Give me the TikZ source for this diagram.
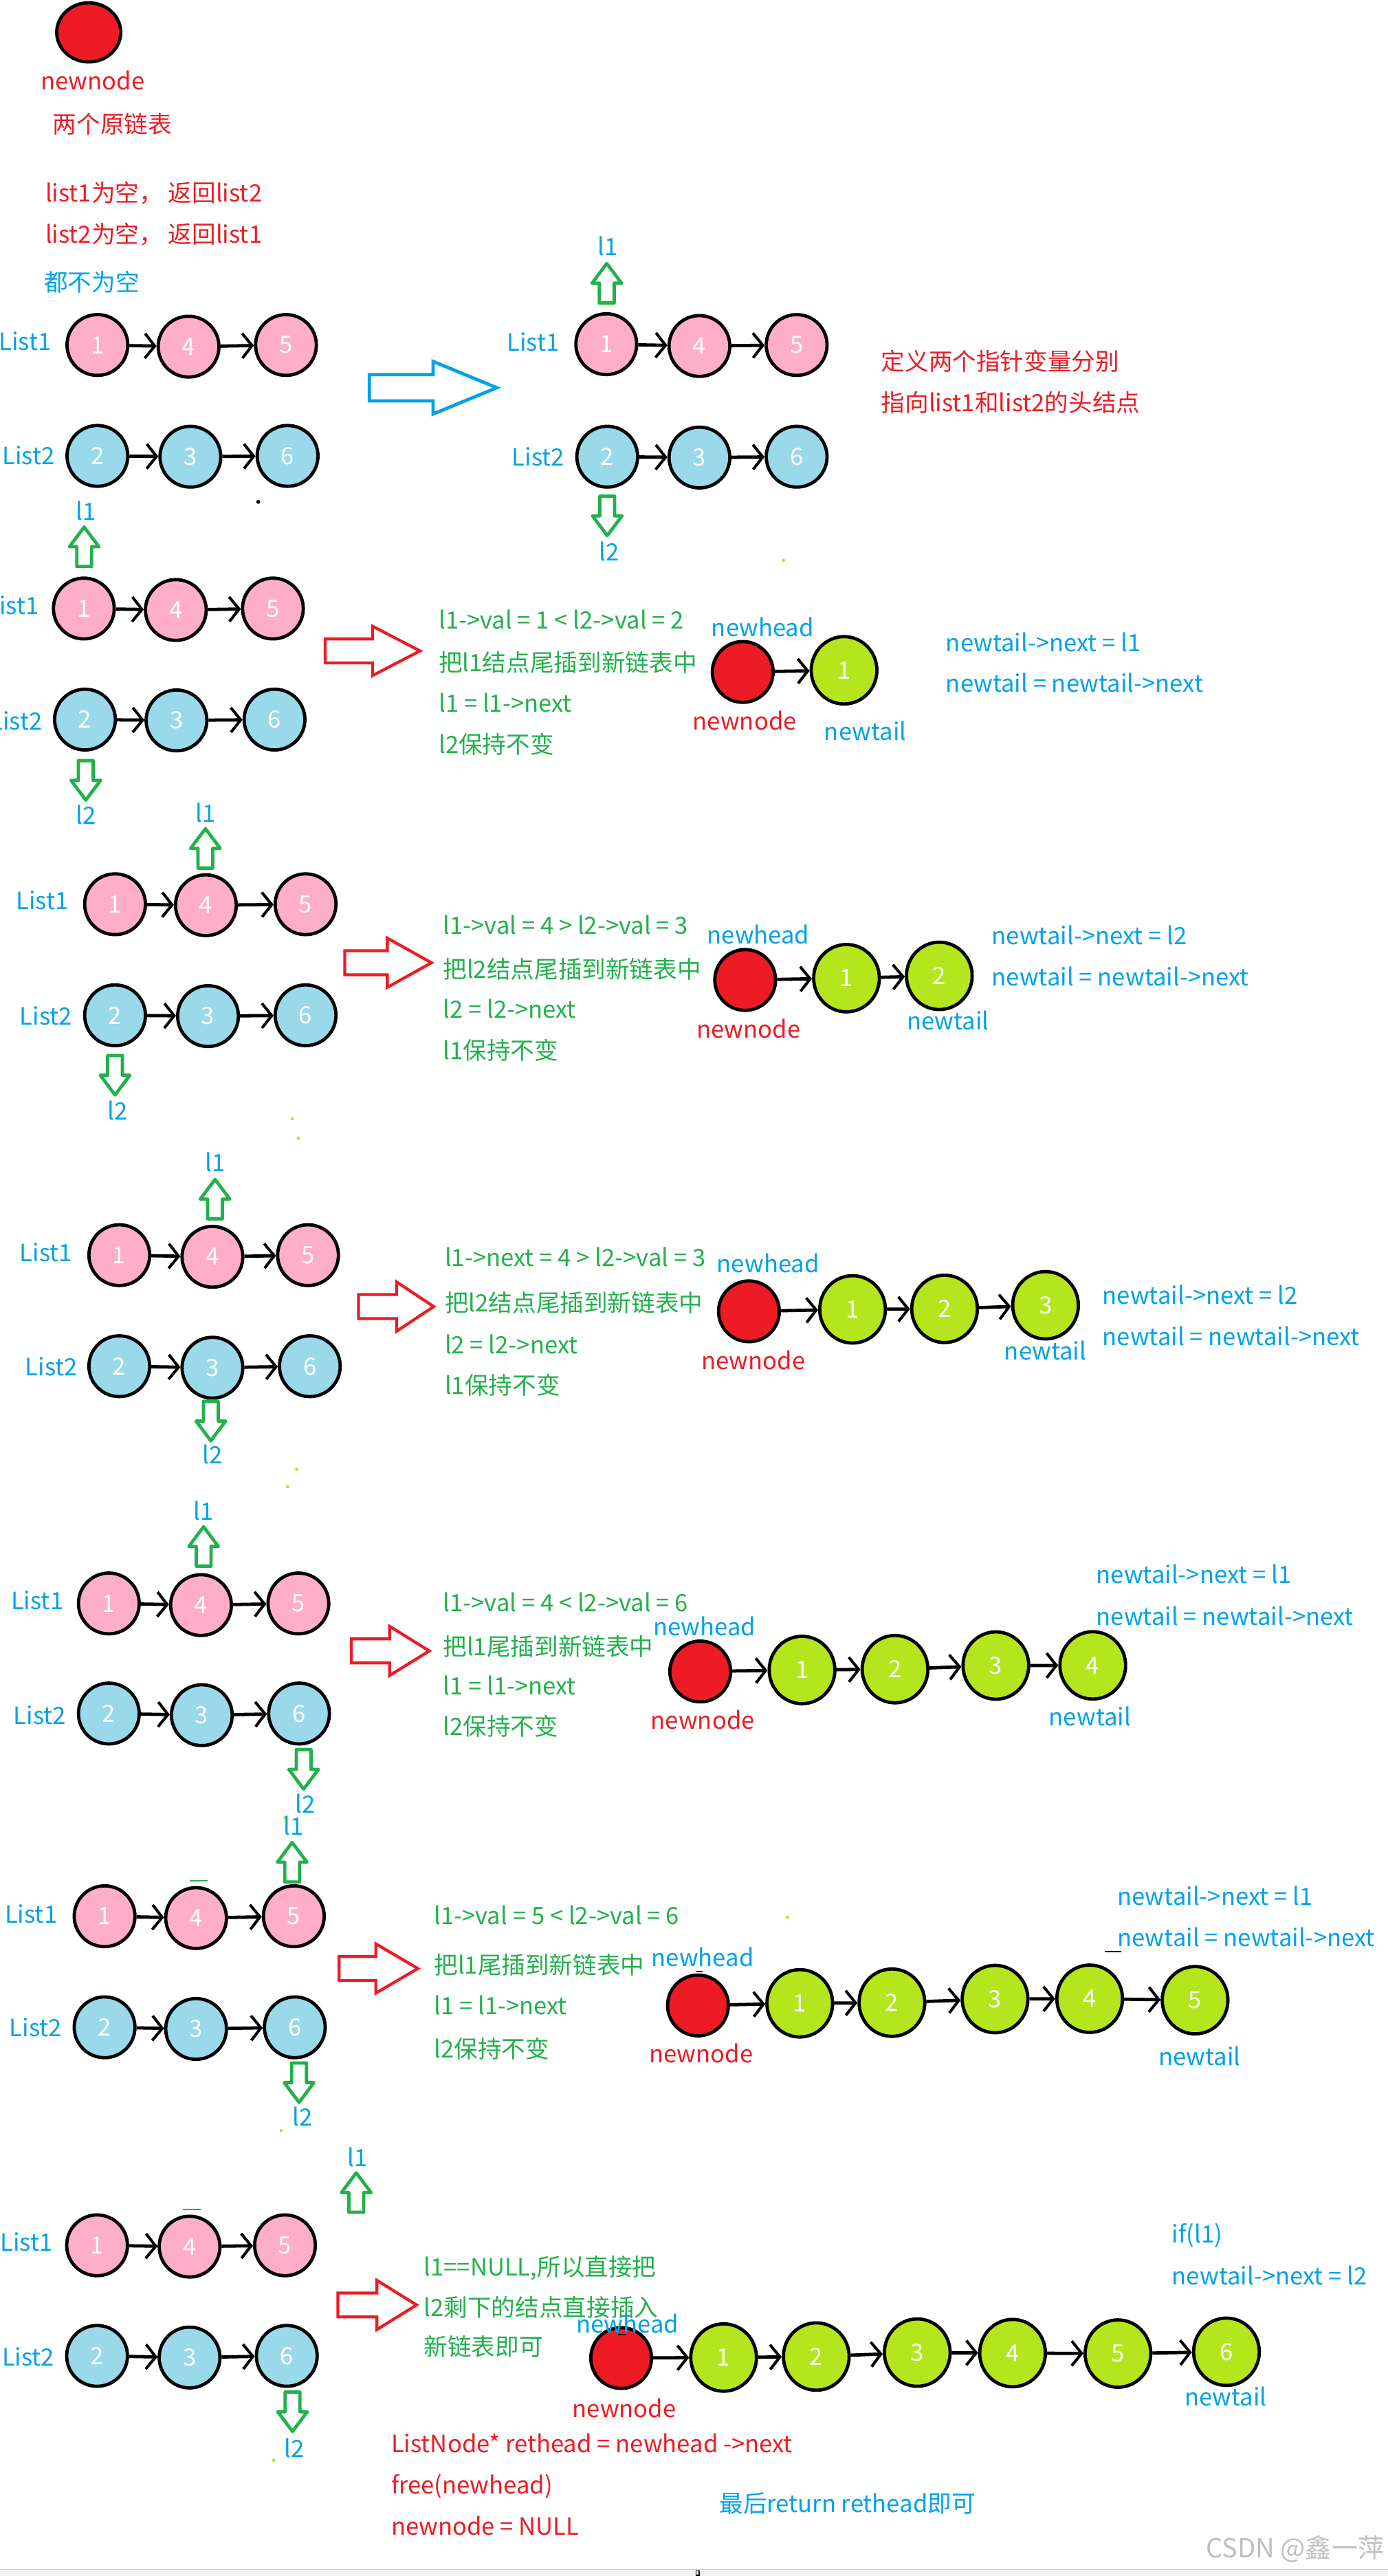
\documentclass[tikz,border=0pt]{standalone}
\usepackage{fontspec}
\setmainfont{Noto Sans CJK SC}
\usetikzlibrary{shapes.geometric, arrows.meta}
\definecolor{cred}{HTML}{ED1C24}
\definecolor{cgreen}{HTML}{22B14C}
\definecolor{cblue}{HTML}{00A2E8}
\definecolor{clime}{HTML}{B5E61D}
\definecolor{cpink}{HTML}{FFAEC9}
\definecolor{clblue}{HTML}{99D9EA}
\newcommand{\fs}{\fontsize{14.5pt}{17pt}\selectfont}
\newcommand{\RArr}[4]{\draw[cred, line width=1.8pt] (#1,#4-7.3) -- (#2,#4-7.3) -- (#2,#4-15) -- (#3,#4) -- (#2,#4+15) -- (#2,#4+7.3) -- (#1,#4+7.3) -- cycle;}
\tikzset{
 txt/.style={inner sep=0pt, font=\fs, text height=0.74em, text depth=0pt},
 bt/.style={txt, text=cblue, anchor=west},
 gt/.style={txt, text=cgreen, anchor=west},
 rt/.style={txt, text=cred, anchor=west},
 lbl/.style={txt, text=cblue},
 rlbl/.style={txt, text=cred},
 lstl/.style={txt, text=cblue, anchor=east},
 lnode/.style={ellipse, draw=black, line width=2pt, minimum width=37pt, minimum height=37pt, inner sep=0pt, text=white, font=\fs},
 pk/.style={lnode, fill=cpink},
 lb/.style={lnode, fill=clblue},
 lm/.style={lnode, fill=clime, minimum width=40pt, minimum height=41pt},
 rd/.style={lnode, fill=cred},
 link/.style={line width=2pt, -{Straight Barb[length=6pt,width=15pt,line width=1.7pt]}},
 garrow/.style={draw=cgreen, fill=white, line width=2pt, line join=round},
 uparr/.pic={\path[garrow] (0,0) -- (9,12) -- (4.5,12) -- (4.5,24) -- (-4.5,24) -- (-4.5,12) -- (-9,12) -- cycle;},
 downarr/.pic={\path[garrow] (0,24) -- (9,12) -- (4.5,12) -- (4.5,0) -- (-4.5,0) -- (-4.5,12) -- (-9,12) -- cycle;},
 ldot/.style={fill=clime},
}
\begin{document}
\begin{tikzpicture}[x=1pt,y=-1pt]
\fill[white] (0,0) rectangle (845,1568);
\useasboundingbox (0,0) rectangle (845,1568);
\begin{scope}[xscale=0.995]
% ---------- top ----------
\node[rd, minimum width=39pt, minimum height=36pt] (nn0) at (54.3,19.7) {};
\node[rlbl] (nn0t) at (56.7,50.9) {newnode};
\node[rt] (t0a) at (32.1,77.4) {两个原链表};
\node[rt] (t0b) at (27.6,119.2) {list1为空， 返回list2};
\node[rt] (t0c) at (27.6,144.4) {list2为空， 返回list1};
\node[bt] (t0d) at (26.8,173.6) {都不为空};
% ---------- section 0 ----------
\node[lstl] (s0L1) at (31.5,209.5) {List1};
\node[pk] (s0a1) at (59.6,210) {1};
\node[pk] (s0a2) at (115.4,211) {4};
\node[pk] (s0a3) at (175,210) {5};
\node[lstl] (s0L2) at (33.6,279) {List2};
\node[lb] (s0b1) at (59.6,277.5) {2};
\node[lb] (s0b2) at (116.5,278) {3};
\node[lb] (s0b3) at (176,277.5) {6};
\draw[link] (s0a1) -- (s0a2); \draw[link] (s0a2) -- (s0a3);
\draw[link] (s0b1) -- (s0b2); \draw[link] (s0b2) -- (s0b3);
\fill (158,305.5) circle (1.2);
\draw[cblue, line width=2pt] (226,228) -- (265,228) -- (265,220) -- (304,236) -- (265,252) -- (265,244) -- (226,244) -- cycle;
\node[lbl] (s0l1) at (372,152) {l1};
\pic at (371.3,160.4) {uparr};
\node[lstl] (s0R1) at (342.4,210) {List1};
\node[pk] (s0c1) at (371,209.5) {1};
\node[pk] (s0c2) at (428,210.6) {4};
\node[pk] (s0c3) at (487.5,210) {5};
\node[lstl] (s0R2) at (345.6,279.7) {List2};
\node[lb] (s0d1) at (371.6,278) {2};
\node[lb] (s0d2) at (428,278.5) {3};
\node[lb] (s0d3) at (487.5,278) {6};
\draw[link] (s0c1) -- (s0c2); \draw[link] (s0c2) -- (s0c3);
\draw[link] (s0d1) -- (s0d2); \draw[link] (s0d2) -- (s0d3);
\pic at (371.6,302) {downarr};
\node[lbl] (s0l2) at (372.7,337.5) {l2};
\node[rt] (s0t1) at (539,221.8) {定义两个指针变量分别};
\node[rt] (s0t2) at (539,247) {指向list1和list2的头结点};
\fill[ldot] (479.4,341) circle (1);
% ---------- section 1 ----------
\node[lbl] (s1l1) at (52.5,313) {l1};
\pic at (51.5,320.8) {uparr};
\node[lstl] (s1L1) at (24,370.4) {List1};
\node[pk] (s1a1) at (51.3,370.4) {1};
\node[pk] (s1a2) at (107.6,371.3) {4};
\node[pk] (s1a3) at (167,370.4) {5};
\node[lstl] (s1L2) at (26,440.8) {List2};
\node[lb] (s1b1) at (52,438) {2};
\node[lb] (s1b2) at (108,438.5) {3};
\node[lb] (s1b3) at (168,438) {6};
\draw[link] (s1a1) -- (s1a2); \draw[link] (s1a2) -- (s1a3);
\draw[link] (s1b1) -- (s1b2); \draw[link] (s1b2) -- (s1b3);
\pic at (52.5,463) {downarr};
\node[lbl] (s1l2) at (52.5,498) {l2};
\RArr{199}{228}{257}{396.2}
\node[gt] (s1g1) at (268.3,379) {l1->val = 1 < l2->val = 2};
\node[gt] (s1g2) at (268.3,405) {把l1结点尾插到新链表中};
\node[gt] (s1g3) at (268.3,429.7) {l1 = l1->next};
\node[gt] (s1g4) at (268.3,454.8) {l2保持不变};
\node[lbl] (s1nh) at (466.7,383.6) {newhead};
\node[rd] (s1r) at (454.5,409) {};
\node[lm] (s1n1) at (516.5,408) {1};
\draw[link] (s1r) -- (s1n1);
\node[rlbl] (s1nn) at (455.7,440.8) {newnode};
\node[lbl] (s1nt) at (529.5,447) {newtail};
\node[bt] (s1b1t) at (578.6,392.7) {newtail->next = l1};
\node[bt] (s1b2t) at (578.6,417.8) {newtail = newtail->next};
% ---------- section 2 ----------
\node[lbl] (s2l1) at (126,496.8) {l1};
\pic at (125.7,504.4) {uparr};
\node[lstl] (s2L1) at (42,550) {List1};
\node[pk] (s2a1) at (70.4,550.4) {1};
\node[pk] (s2a2) at (126,551) {4};
\node[pk] (s2a3) at (187,550.4) {5};
\node[lstl] (s2L2) at (44.4,620) {List2};
\node[lb] (s2b1) at (70.4,618) {2};
\node[lb] (s2b2) at (127.3,618.5) {3};
\node[lb] (s2b3) at (187,618) {6};
\draw[link] (s2a1) -- (s2a2); \draw[link] (s2a2) -- (s2a3);
\draw[link] (s2b1) -- (s2b2); \draw[link] (s2b2) -- (s2b3);
\pic at (70.4,642.5) {downarr};
\node[lbl] (s2l2) at (72,678) {l2};
\fill[ldot] (178.8,681) circle (1);
\RArr{211}{237}{264}{586}
\node[gt] (s2g1) at (270.9,565) {l1->val = 4 > l2->val = 3};
\node[gt] (s2g2) at (270.9,591.6) {把l2结点尾插到新链表中};
\node[gt] (s2g3) at (270.9,616) {l2 = l2->next};
\node[gt] (s2g4) at (270.9,641) {l1保持不变};
\node[lbl] (s2nh) at (464,571) {newhead};
\node[rd] (s2r) at (456,596.5) {};
\node[lm] (s2n1) at (518,595.4) {1};
\node[lm] (s2n2) at (574.8,594) {2};
\draw[link] (s2r) -- (s2n1); \draw[link] (s2n1) -- (s2n2);
\node[rlbl] (s2nn) at (458,628) {newnode};
\node[lbl] (s2nt) at (580,623) {newtail};
\node[bt] (s2b1t) at (606.7,571.4) {newtail->next = l2};
\node[bt] (s2b2t) at (606.7,596.5) {newtail = newtail->next};
% ---------- section 3 ----------
\fill[ldot] (182.6,692.8) circle (1);
\node[lbl] (s3l1) at (131.6,709.5) {l1};
\pic at (131.6,717.9) {uparr};
\node[lstl] (s3L1) at (44.4,764) {List1};
\node[pk] (s3a1) at (73,764) {1};
\node[pk] (s3a2) at (130,765) {4};
\node[pk] (s3a3) at (188.5,764) {5};
\node[lstl] (s3L2) at (47.7,833.7) {List2};
\node[lb] (s3b1) at (73,831.6) {2};
\node[lb] (s3b2) at (130,832.5) {3};
\node[lb] (s3b3) at (189.6,831.6) {6};
\draw[link] (s3a1) -- (s3a2); \draw[link] (s3a2) -- (s3a3);
\draw[link] (s3b1) -- (s3b2); \draw[link] (s3b2) -- (s3b3);
\pic at (129,853) {downarr};
\node[lbl] (s3l2) at (130,887.4) {l2};
\fill[ldot] (181.5,894.3) circle (1);
\RArr{219.4}{242.7}{265.4}{795.3}
\node[gt] (s3g1) at (272,767) {l1->next = 4 > l2->val = 3};
\node[gt] (s3g2) at (272,794.6) {把l2结点尾插到新链表中};
\node[gt] (s3g3) at (272,820.4) {l2 = l2->next};
\node[gt] (s3g4) at (272,844.8) {l1保持不变};
\node[lbl] (s3nh) at (470,771) {newhead};
\node[rd] (s3r) at (458.3,798.2) {};
\node[lm] (s3n1) at (521.7,797) {1};
\node[lm] (s3n2) at (578,796.7) {2};
\node[lm] (s3n3) at (639.8,794.5) {3};
\draw[link] (s3r) -- (s3n1); \draw[link] (s3n1) -- (s3n2); \draw[link] (s3n2) -- (s3n3);
\node[rlbl] (s3nn) at (461,830) {newnode};
\node[lbl] (s3nt) at (639.7,824) {newtail};
\node[bt] (s3b1t) at (674.4,790) {newtail->next = l2};
\node[bt] (s3b2t) at (674.4,815.3) {newtail = newtail->next};
% ---------- section 4 ----------
\fill[ldot] (176,904.9) circle (1);
\node[lbl] (s4l1) at (124.6,921.6) {l1};
\pic at (124.6,929.3) {uparr};
\node[lstl] (s4L1) at (39,976) {List1};
\node[pk] (s4a1) at (66.6,976) {1};
\node[pk] (s4a2) at (123,977) {4};
\node[pk] (s4a3) at (182.6,976) {5};
\node[lstl] (s4L2) at (40.6,1045.7) {List2};
\node[lb] (s4b1) at (66.6,1043) {2};
\node[lb] (s4b2) at (123.5,1044) {3};
\node[lb] (s4b3) at (183,1043) {6};
\draw[link] (s4a1) -- (s4a2); \draw[link] (s4a2) -- (s4a3);
\draw[link] (s4b1) -- (s4b2); \draw[link] (s4b2) -- (s4b3);
\pic at (185.8,1065) {downarr};
\node[lbl] (s4l2) at (187,1100) {l2};
\RArr{215}{238.4}{262.7}{1004.9}
\node[gt] (s4g1) at (270.9,977.4) {l1->val = 4 < l2->val = 6};
\node[gt] (s4g2) at (270.9,1003.9) {把l1尾插到新链表中};
\node[gt] (s4g3) at (270.9,1028) {l1 = l1->next};
\node[gt] (s4g4) at (270.9,1052.7) {l2保持不变};
\node[lbl] (s4nh) at (431,992) {newhead};
\node[rd] (s4r) at (428.5,1017.4) {};
\node[lm] (s4n1) at (490.8,1016.5) {1};
\node[lm] (s4n2) at (547.7,1016) {2};
\node[lm] (s4n3) at (609.4,1013.8) {3};
\node[lm] (s4n4) at (668.7,1013.7) {4};
\draw[link] (s4r) -- (s4n1); \draw[link] (s4n1) -- (s4n2); \draw[link] (s4n2) -- (s4n3); \draw[link] (s4n3) -- (s4n4);
\node[rlbl] (s4nn) at (430,1049) {newnode};
\node[lbl] (s4nt) at (667,1046.7) {newtail};
\node[bt] (s4b1t) at (670.6,960) {newtail->next = l1};
\node[bt] (s4b2t) at (670.6,985.5) {newtail = newtail->next};
% ---------- section 5 ----------
\fill[ldot] (174.4,1106.4) circle (1);
\node[lbl] (s5l1) at (179.8,1113.4) {l1};
\pic at (178.8,1121.5) {uparr};
\draw[cgreen, line width=1pt] (116,1144.8) -- (127,1144.8);
\node[lstl] (s5L1) at (35.2,1167) {List1};
\node[pk] (s5a1) at (64,1166.4) {1};
\node[pk] (s5a2) at (120,1167.5) {4};
\node[pk] (s5a3) at (179.8,1166.4) {5};
\node[lstl] (s5L2) at (38,1236) {List2};
\node[lb] (s5b1) at (64,1234) {2};
\node[lb] (s5b2) at (120,1235) {3};
\node[lb] (s5b3) at (180.4,1234) {6};
\draw[link] (s5a1) -- (s5a2); \draw[link] (s5a2) -- (s5a3);
\draw[link] (s5b1) -- (s5b2); \draw[link] (s5b2) -- (s5b3);
\pic at (183,1255.7) {downarr};
\node[lbl] (s5l2) at (185,1290.5) {l2};
\fill[ldot] (172,1296.8) circle (1);
\RArr{207.5}{230}{255.7}{1198.2}
\node[gt] (s5g1) at (265.4,1167.5) {l1->val = 5 < l2->val = 6};
\node[gt] (s5g2) at (265.4,1197.8) {把l1尾插到新链表中};
\node[gt] (s5g3) at (265.4,1222.6) {l1 = l1->next};
\node[gt] (s5g4) at (265.4,1248.7) {l2保持不变};
\fill[ldot] (482,1167) circle (1);
\node[lbl] (s5nh) at (430,1193.3) {newhead};
\draw[line width=0.8pt] (426,1200) -- (430,1200);
\node[rd] (s5r) at (427.1,1220.7) {};
\node[lm] (s5n1) at (489.4,1219.4) {1};
\node[lm] (s5n2) at (545.8,1219) {2};
\node[lm] (s5n3) at (608.9,1216.8) {3};
\node[lm] (s5n4) at (666.8,1216.6) {4};
\node[lm] (s5n5) at (731.3,1217.5) {5};
\draw[link] (s5r) -- (s5n1); \draw[link] (s5n1) -- (s5n2); \draw[link] (s5n2) -- (s5n3); \draw[link] (s5n3) -- (s5n4); \draw[link] (s5n4) -- (s5n5);
\node[rlbl] (s5nn) at (429,1252) {newnode};
\node[lbl] (s5nt) at (734,1253.6) {newtail};
\node[bt] (s5b1t) at (683.6,1156) {newtail->next = l1};
\node[bt] (s5b2t) at (683.6,1181) {newtail = newtail->next};
\draw[line width=0.8pt] (676,1188) -- (686,1188);
% ---------- section 6 ----------
\node[lbl] (s6l1) at (218.7,1314.9) {l1};
\pic at (218,1322.6) {uparr};
\draw[cgreen, line width=1pt] (112,1344.8) -- (123,1344.8);
\node[lstl] (s6L1) at (32.4,1366.7) {List1};
\node[pk] (s6a1) at (59.4,1366.7) {1};
\node[pk] (s6a2) at (116,1367.5) {4};
\node[pk] (s6a3) at (174.4,1366.7) {5};
\node[lstl] (s6L2) at (33.5,1436.6) {List2};
\node[lb] (s6b1) at (59.4,1434) {2};
\node[lb] (s6b2) at (116,1435) {3};
\node[lb] (s6b3) at (175.5,1434) {6};
\draw[link] (s6a1) -- (s6a2); \draw[link] (s6a2) -- (s6a3);
\draw[link] (s6b1) -- (s6b2); \draw[link] (s6b2) -- (s6b3);
\pic at (179,1456) {downarr};
\node[lbl] (s6l2) at (180,1491.9) {l2};
\fill[ldot] (167.4,1497.6) circle (1);
\RArr{206.8}{230.6}{254.9}{1403}
\node[gt] (s6g1) at (259.2,1381.4) {l1==NULL,所以直接把};
\node[gt] (s6g2) at (259.2,1406.4) {l2剩下的结点直接插入};
\node[gt] (s6g3) at (259.2,1430.2) {新链表即可};
\node[rd] (s6r) at (380.1,1435.3) {};
\node[lbl] (s6nh) at (384,1416.4) {newhead};
\draw[line width=0.8pt] (378,1421) -- (383,1421);
\node[lm] (s6n1) at (442.8,1435) {1};
\node[lm] (s6n2) at (499.5,1434.4) {2};
\node[lm] (s6n3) at (561.3,1432) {3};
\node[lm] (s6n4) at (619.6,1432.3) {4};
\node[lm] (s6n5) at (684.1,1432.6) {5};
\node[lm] (s6n6) at (750.5,1431.5) {6};
\draw[link] (s6r) -- (s6n1); \draw[link] (s6n1) -- (s6n2); \draw[link] (s6n2) -- (s6n3); \draw[link] (s6n3) -- (s6n4); \draw[link] (s6n4) -- (s6n5); \draw[link] (s6n5) -- (s6n6);
\node[rlbl] (s6nn) at (382,1467.7) {newnode};
\node[lbl] (s6nt) at (750,1460.8) {newtail};
\node[bt] (s6b1t) at (717,1361.5) {if(l1)};
\node[bt] (s6b2t) at (717,1387) {newtail->next = l2};
\node[rt] (s6r1) at (239.2,1489.3) {ListNode* rethead = newhead ->next};
\node[rt] (s6r2) at (239.2,1514.3) {free(newhead)};
\node[rt] (s6r3) at (239.2,1539.4) {newnode = NULL};
\node[bt] (s6fin) at (440,1525.6) {最后return rethead即可};
\end{scope}
% ---------- footer ----------
\node[txt, text=gray!50, anchor=west, font=\fontsize{16pt}{18pt}\selectfont] (wm) at (734,1553) {CSDN @鑫一萍};
\fill[black!5] (0,1564) rectangle (845,1568);
\draw[black!18, line width=0.5pt] (0,1564) -- (845,1564);
\draw[black, line width=0.6pt] (423.8,1564.8) rectangle (425.6,1567.6);
\end{tikzpicture}
\end{document}
